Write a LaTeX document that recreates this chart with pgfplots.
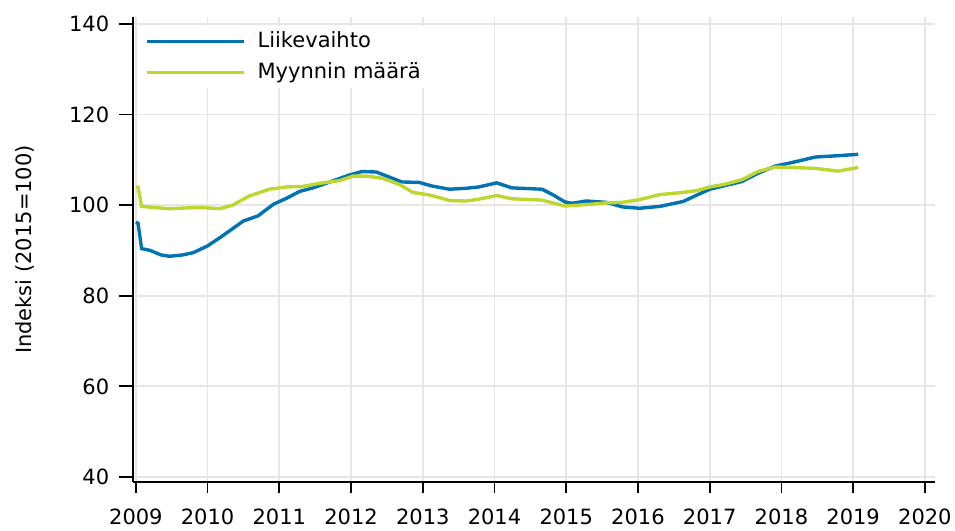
\documentclass[border=0pt]{standalone}
\usepackage{fontspec}
\setmainfont{DejaVu Sans}
\usepackage{pgfplots}
\pgfplotsset{compat=1.18}
\definecolor{sfblue}{RGB}{0,115,176}
\definecolor{sfgreen}{RGB}{190,214,47}
\definecolor{gridgray}{RGB}{230,230,230}

\begin{document}
\begin{tikzpicture}
\begin{axis}[
  scale only axis,
  width=802pt, height=465pt,
  xmin=2008.96, xmax=2020.14,
  ymin=38.9, ymax=141.5,
  axis x line*=bottom, axis y line*=left,
  axis line style={black, line width=1.8pt},
  xtick={2009,...,2020},
  ytick={40,60,...,140},
  tick align=outside,
  tick style={black, line width=1.8pt},
  x tick style={/pgfplots/major tick length=11pt},
  y tick style={/pgfplots/major tick length=14pt},
  grid=major,
  grid style={gridgray, line width=1.8pt},
  font=\fontsize{21}{25}\selectfont,
  /pgf/number format/assume math mode=true,
  xticklabel style={/pgf/number format/1000 sep={}, yshift=-19pt},
  yticklabel style={xshift=-16pt},
  ylabel={Indeksi (2015=100)},
  ylabel style={at={(axis description cs:-0.119,0.5)}, anchor=south},
  legend style={at={(axis description cs:0.005,0.981)}, anchor=north west,
    draw=none, fill=white, inner xsep=8pt, inner ysep=5pt,
    row sep=10pt,
    nodes={inner sep=0pt, text height=16pt, text depth=5pt},
    /tikz/every odd column/.append style={column sep=12pt},
    font=\fontsize{21}{25}\selectfont},
  legend image code/.code={\draw[#1] (0pt,0pt) -- (97pt,0pt);},
  legend cell align=left,
]
\addplot[sfblue, line width=3.4pt] coordinates {
(2009.00,96.2) (2009.03,96.0) (2009.08,90.4) (2009.20,90.0) (2009.35,89.0)
(2009.47,88.7) (2009.65,89.0) (2009.80,89.5) (2010.00,91.0) (2010.18,92.9)
(2010.50,96.5) (2010.70,97.6) (2010.92,100.2) (2011.10,101.5) (2011.28,103.0)
(2011.47,103.8) (2011.74,105.3) (2011.97,106.6) (2012.15,107.4) (2012.35,107.3)
(2012.53,106.2) (2012.71,105.1) (2012.95,105.0) (2013.13,104.2) (2013.37,103.5)
(2013.60,103.7) (2013.78,104.0) (2014.03,104.9) (2014.24,103.8) (2014.66,103.5)
(2014.80,102.4) (2014.98,100.7) (2015.08,100.4) (2015.28,100.9) (2015.56,100.6)
(2015.78,99.6) (2016.02,99.3) (2016.30,99.7) (2016.63,100.8) (2016.82,102.2)
(2017.00,103.5) (2017.21,104.3) (2017.45,105.2) (2017.67,107.0) (2017.91,108.6)
(2018.15,109.4) (2018.47,110.6) (2018.79,110.9) (2019.07,111.2)
};
\addplot[sfgreen, line width=3.4pt] coordinates {
(2009.00,104.0) (2009.03,104.0) (2009.08,99.7) (2009.47,99.2) (2009.89,99.5)
(2010.17,99.2) (2010.35,100.0) (2010.58,102.0) (2010.86,103.5) (2011.10,104.0)
(2011.32,104.1) (2011.56,104.8) (2011.84,105.4) (2012.03,106.4) (2012.22,106.4)
(2012.44,105.9) (2012.68,104.5) (2012.86,102.8) (2013.10,102.2) (2013.38,101.0)
(2013.60,100.9) (2013.78,101.3) (2014.03,102.1) (2014.24,101.4) (2014.66,101.1)
(2014.98,99.8) (2015.08,99.9) (2015.28,100.1) (2015.56,100.5) (2015.78,100.6)
(2016.02,101.2) (2016.30,102.3) (2016.63,102.8) (2016.82,103.2) (2017.00,104.0)
(2017.21,104.6) (2017.45,105.6) (2017.67,107.4) (2017.91,108.4) (2018.15,108.3)
(2018.47,108.1) (2018.79,107.5) (2019.07,108.3)
};
\legend{Liikevaihto, Myynnin määrä}
\end{axis}
\pgfresetboundingbox
\path ([xshift=-133pt,yshift=-48pt]current axis.south west)
  rectangle ([xshift=20pt,yshift=17pt]current axis.north east);
\end{tikzpicture}
\end{document}
